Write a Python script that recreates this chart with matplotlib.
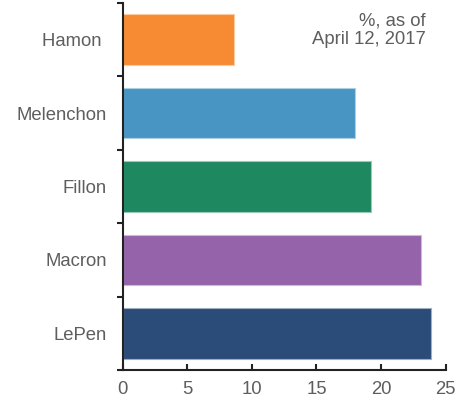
import matplotlib
matplotlib.use('Agg')
import matplotlib.pyplot as plt
from matplotlib.colors import to_rgb

# poll shares, % as of April 12, 2017 (bottom to top)
candidates = ['LePen', 'Macron', 'Fillon', 'Melenchon', 'Hamon ']
shares = [23.9, 23.1, 19.2, 18.0, 8.6]
colors = ['#2b4c78', '#9463a9', '#1e8861', '#4895c3', '#f68b33']
xticks = [0, 5, 10, 15, 20, 25]

plt.rcParams['font.family'] = ['Liberation Sans', 'DejaVu Sans']
text_color = '#5e5e5e'
axis_color = '#222222'
fsize = 13.3


def lighten(c, amt=0.55):
    r, g, b = to_rgb(c)
    return (r + (1 - r) * amt, g + (1 - g) * amt, b + (1 - b) * amt)


fig = plt.figure(figsize=(4.69, 4.0), dpi=100)
ax = fig.add_axes([0.2616, 0.075, 0.6887, 0.9175])

ypos = list(range(len(candidates)))
ax.barh(ypos, shares, height=0.69, color=colors,
        edgecolor=[lighten(c) for c in colors], linewidth=0.8)

ax.set_xlim(0, 25)
ax.set_ylim(-0.5, len(candidates) - 0.5)

# category labels at bar centres, tick marks at the boundaries
ax.set_yticks(ypos)
ax.set_yticklabels(candidates)
ax.tick_params(axis='y', which='major', length=0, pad=11.5,
               labelsize=fsize, labelcolor=text_color)
ax.set_yticks([i - 0.5 for i in range(len(candidates) + 1)], minor=True)
ax.tick_params(axis='y', which='minor', direction='out', length=4,
               width=1.5, color=axis_color)

ax.set_xticks(xticks)
ax.tick_params(axis='x', direction='in', length=4, width=1.5,
               color=axis_color, pad=8, labelsize=fsize, labelcolor=text_color)

for side in ['top', 'right']:
    ax.spines[side].set_visible(False)
for side in ['left', 'bottom']:
    ax.spines[side].set_color(axis_color)
    ax.spines[side].set_linewidth(1.5)

fig.text(0.908, 0.9675, '%, as of\nApril 12, 2017', ha='right', va='top',
         fontsize=fsize, color=text_color, linespacing=1.05)

fig.savefig('out.png', dpi=100)
